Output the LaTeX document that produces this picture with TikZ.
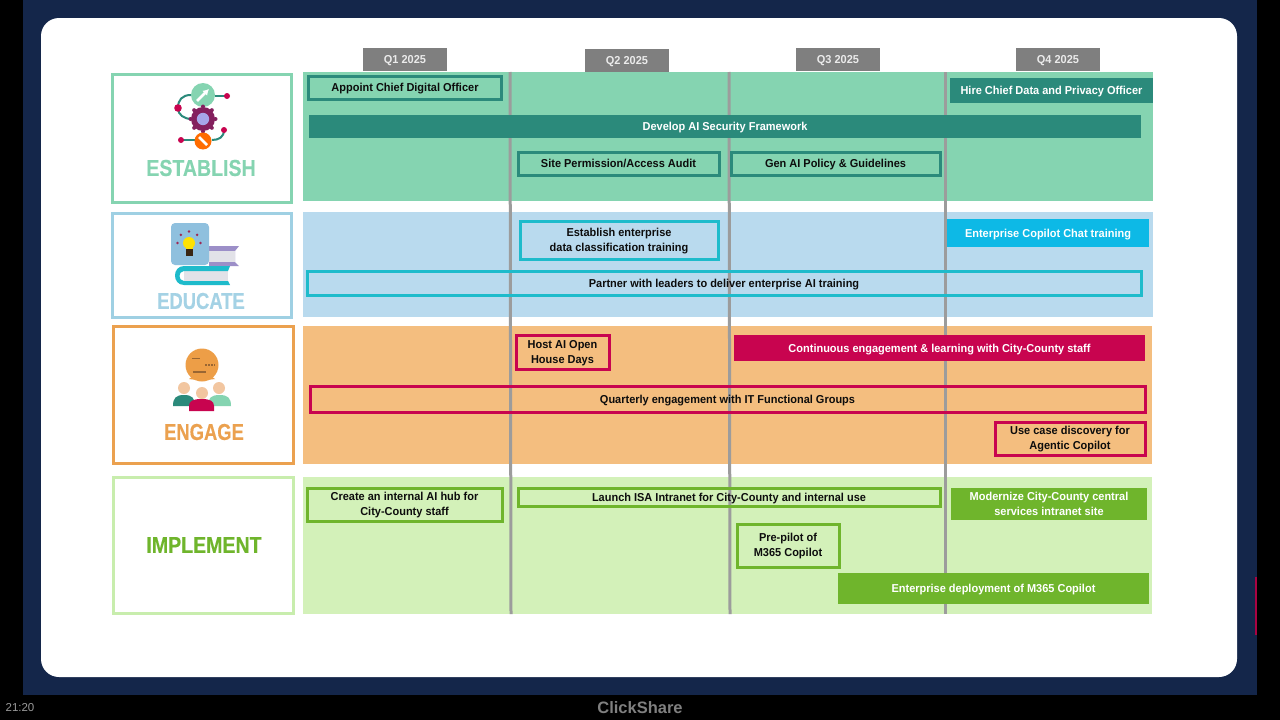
\documentclass[tikz,border=0pt]{standalone}
\usepackage{fontspec}
\usetikzlibrary{arrows.meta}
\setmainfont{Liberation Sans}
\newfontfamily\labelfont[FakeStretch=0.8,FakeBold=0.3]{Liberation Sans Bold}
\newfontfamily\widelabelfont[FakeStretch=0.85,FakeBold=0.3]{Liberation Sans Bold}
\newfontfamily\barfont[FakeStretch=0.955]{Liberation Sans Bold}
\definecolor{navybg}{HTML}{14264A}
\definecolor{estgreen}{HTML}{85D4B1}
\definecolor{estdark}{HTML}{2B8A7B}
\definecolor{edublue}{HTML}{B9DAEE}
\definecolor{eduline}{HTML}{9FD0E3}
\definecolor{educyan}{HTML}{1EBBCB}
\definecolor{edusky}{HTML}{0DB9E6}
\definecolor{engorange}{HTML}{F4BE7F}
\definecolor{engline}{HTML}{EBA14F}
\definecolor{engred}{HTML}{C8044F}
\definecolor{impgreen}{HTML}{D3F1B9}
\definecolor{impline}{HTML}{C8EDAD}
\definecolor{impdark}{HTML}{6FB52C}
\definecolor{qgray}{HTML}{7F7F7F}
\definecolor{rulegray}{HTML}{9C9C9C}
\definecolor{plum}{HTML}{84205E}
\definecolor{lilac}{HTML}{9C8FC8}
\definecolor{pagegray}{HTML}{E2E2E8}
\definecolor{cardblue}{HTML}{8FC0DE}
\definecolor{skintone}{HTML}{F2C6A0}
\tikzset{
    band/.style={inner sep=0pt, outer sep=0pt},
    rowbox/.style={draw, line width=3pt, fill=white, inner sep=0pt, outer sep=0pt},
    rowlabel/.style={font=\labelfont\fontsize{23}{26}\selectfont, inner sep=0pt},
    widelabel/.style={rowlabel, font=\widelabelfont\fontsize{23}{26}\selectfont},
    qbox/.style={fill=qgray, text=white!92!black, inner sep=0pt, outer sep=0pt, minimum height=23pt, minimum width=84pt, text height=8.5pt, text depth=0pt, font=\barfont\fontsize{11.5}{14}\selectfont},
    bar/.style={inner sep=0pt, outer sep=0pt, align=center, text depth=0pt, font=\barfont\fontsize{11.5}{15}\selectfont},
    oneline/.style={text height=8.5pt},
    lifted/.style={text depth=2pt},
    outbar/.style={bar, draw, line width=3pt, text=black!95},
    fillbar/.style={bar, text=white},
    gridline/.style={rulegray, line width=3pt},
    wire/.style={estdark, line width=2pt}
}
\begin{document}
\begin{tikzpicture}[x=1pt, y=-1pt]
    % Screen
    \fill[black] (0,0) rectangle (1280,720);
    \fill[navybg] (23,0) rectangle (1257,695);
    \fill[white, rounded corners=18pt] (41,18) rectangle (1237,677);
    \fill[engred!85!black] (1254.5,577) rectangle (1256.5,635);
    \node[text=gray!80!white, font=\fontsize{11.5}{14}\selectfont, inner sep=0pt] (clock) at (20,708) {21:20};
    \node[text=gray, font=\bfseries\fontsize{16.5}{18}\selectfont, inner sep=0pt] (brand) at (640,708) {ClickShare};

    % Row bands
    \node[band, fill=estgreen, minimum width=850pt, minimum height=129pt] (estband) at (728,136.5) {};
    \node[band, fill=edublue, minimum width=850pt, minimum height=105pt] (eduband) at (728,264.5) {};
    \node[band, fill=engorange, minimum width=849pt, minimum height=138pt] (engband) at (727.5,395) {};
    \node[band, fill=impgreen, minimum width=849pt, minimum height=137pt] (impband) at (727.5,545.5) {};

    % Row boxes
    \node[rowbox, draw=estgreen, minimum width=179pt, minimum height=128.5pt] (estbox) at (201.5,138.5) {};
    \node[rowbox, draw=eduline, minimum width=179pt, minimum height=104pt] (edubox) at (202,265) {};
    \node[rowbox, draw=engline, minimum width=180pt, minimum height=137pt] (engbox) at (203.5,395) {};
    \node[rowbox, draw=impline, minimum width=180pt, minimum height=136pt] (impbox) at (203.5,545.5) {};
    \node[widelabel, text=estgreen] (estlabel) at (201,168) {ESTABLISH};
    \node[rowlabel, text=eduline!80!edublue] (edulabel) at (201,301) {EDUCATE};
    \node[rowlabel, text=engline] (englabel) at (204,432) {ENGAGE};
    \node[widelabel, text=impdark] (implabel) at (204,545) {IMPLEMENT};

    % Establish icon
    \draw[wire] (191,95) .. controls (182,95) and (178,100) .. (178,108) .. controls (178,115) and (184,119) .. (192,119);
    \draw[wire] (215,96) -- (227,96);
    \draw[wire] (224,130) .. controls (224,137) and (219,140) .. (212,140);
    \draw[wire] (181,140) -- (195,140);
    \draw[wire] (203,130) -- (203,134);
    \fill[estgreen] (203,95) circle (12);
    \draw[white, line width=2.5pt, -{Latex[length=6pt,width=7pt]}] (197,101) -- (209,89);
    \fill[plum] (203,119) circle (12);
    \foreach \ang in {0,45,...,315} {
        \fill[plum] (203,119) ++(\ang:12.5) circle (2);
    }
    \fill[black!25!blue!35!white] (203,119) circle (6.2);
    \fill[orange!85!red] (203,141) circle (8.5);
    \draw[white, line width=2.5pt] (199,137) -- (207,145);
    \fill[engred] (227,96) circle (3);
    \fill[engred] (178,108) circle (3.8);
    \fill[engred] (224,130) circle (3);
    \fill[engred] (181,140) circle (3);

    % Educate icon
    \fill[lilac] (209,246) -- (239,246) -- (235,251) -- (235,262) -- (239,266) -- (209,266) -- cycle;
    \fill[pagegray] (209,251) rectangle (235,262);
    \fill[pagegray] (184,271) rectangle (228,281);
    \fill[educyan] (230,266) -- (184,266) .. controls (172,266) and (172,285) .. (184,285) -- (230,285) -- (228,281) -- (184,281) .. controls (178,281) and (178,271) .. (184,271) -- (228,271) -- cycle;
    \fill[cardblue, rounded corners=4pt] (171,223) rectangle (209,265);
    \fill[yellow!85!orange] (189,243) circle (6);
    \fill[yellow!85!orange] (186,246) rectangle (192.5,249);
    \fill[black!70!brown] (186,249) rectangle (192.5,256);
    \foreach \ang in {180,-135,-90,-45,0} {
        \fill[engred!70!black!85] (189,243) ++(\ang:11.5) circle (1.4);
    }

    % Engage icon
    \fill[engline!90!orange] (202,365) circle (16.5);
    \fill[engline!90!orange] (193,376) -- (189,379) -- (197,380) -- cycle;
    \fill[engline!90!orange] (211,376) -- (215,379) -- (207,380) -- cycle;
    \draw[brown!80!black, line width=1.5pt] (192,358.5) -- (200,358.5);
    \draw[brown!80!black, line width=1.5pt] (193,372) -- (206,372);
    \draw[brown!80!black, line width=1.5pt, dash pattern=on 1.5pt off 1.5pt] (205,365) -- (215,365);
    \fill[skintone] (184,388) circle (6);
    \fill[skintone] (219,388) circle (6);
    \fill[estdark] (173,406) .. controls (173,398) and (176,395) .. (184,395) .. controls (192,395) and (195,398) .. (195,406) -- cycle;
    \fill[estgreen] (208,406) .. controls (208,398) and (211,395) .. (219.5,395) .. controls (228,395) and (231,398) .. (231,406) -- cycle;
    \fill[skintone] (202,393) circle (6);
    \fill[engred] (189,411) -- (189,406) .. controls (189,401) and (193,399) .. (201.5,399) .. controls (210,399) and (214,401) .. (214,406) -- (214,411) -- cycle;

    % Quarter dividers
    \coordinate (q1top) at (510,72);
    \coordinate (q1end) at (511,614);
    \coordinate (q2top) at (729,72);
    \coordinate (q2end) at (730,614);
    \coordinate (q3top) at (945,72);
    \coordinate (q3end) at (945,614);
    \draw[gridline] (q1top) -- (q1end);
    \draw[gridline] (q2top) -- (q2end);
    \draw[gridline] (q3top) -- (q3end);

    % Quarter headers
    \node[qbox] (q1) at (405,59.5) {Q1 2025};
    \node[qbox] (q2) at (627,60.5) {Q2 2025};
    \node[qbox] (q3) at (838,59.5) {Q3 2025};
    \node[qbox] (q4) at (1058,59.5) {Q4 2025};

    % Establish bars
    \node[outbar, oneline, draw=estdark, minimum width=193pt, minimum height=23pt] (officer) at (405,87.5) {Appoint Chief Digital Officer};
    \node[fillbar, oneline, fill=estdark, minimum width=203pt, minimum height=25pt] (privacy) at (1051.5,90.5) {Hire Chief Data and Privacy Officer};
    \node[fillbar, oneline, fill=estdark, minimum width=832pt, minimum height=23pt] (security) at (725,126.5) {Develop AI Security Framework};
    \node[outbar, oneline, draw=estdark, minimum width=201pt, minimum height=23pt] (audit) at (618.5,163.5) {Site Permission/Access Audit};
    \node[outbar, oneline, draw=estdark, minimum width=209pt, minimum height=23pt] (policy) at (835.5,163.5) {Gen AI Policy \& Guidelines};

    % Educate bars
    \node[outbar, draw=educyan, minimum width=198pt, minimum height=38pt] (classify) at (619,240) {Establish enterprise\\data classification training};
    \node[fillbar, oneline, fill=edusky, minimum width=202pt, minimum height=28pt] (chat) at (1048,233) {Enterprise Copilot Chat training};
    \node[outbar, oneline, draw=educyan, minimum width=834pt, minimum height=24pt] (leaders) at (724,283) {Partner with leaders to deliver enterprise AI training};

    % Engage bars
    \node[outbar, draw=engred, minimum width=93pt, minimum height=34pt] (openhouse) at (562.5,352) {Host AI Open\\House Days};
    \node[fillbar, oneline, fill=engred, minimum width=411pt, minimum height=26pt] (learning) at (939.5,348) {Continuous engagement \& learning with City-County staff};
    \node[outbar, oneline, draw=engred, minimum width=835pt, minimum height=26pt] (quarterly) at (727.5,399) {Quarterly engagement with IT Functional Groups};
    \node[outbar, lifted, draw=engred, minimum width=150pt, minimum height=33pt] (usecase) at (1070,438.5) {Use case discovery for\\Agentic Copilot};

    % Implement bars
    \node[outbar, lifted, draw=impdark, minimum width=195pt, minimum height=33pt] (aihub) at (404.5,504.5) {Create an internal AI hub for\\City-County staff};
    \node[outbar, oneline, draw=impdark, minimum width=422pt, minimum height=18pt] (intranet) at (729,497) {Launch ISA Intranet for City-County and internal use};
    \node[fillbar, fill=impdark, minimum width=196pt, minimum height=32pt] (central) at (1049,504) {Modernize City-County central\\services intranet site};
    \node[outbar, lifted, draw=impdark, minimum width=102pt, minimum height=43pt] (prepilot) at (788,545.5) {Pre-pilot of\\M365 Copilot};
    \node[fillbar, oneline, fill=impdark, minimum width=311pt, minimum height=31pt] (deploy) at (993.5,588.5) {Enterprise deployment of M365 Copilot};
\end{tikzpicture}
\end{document}
